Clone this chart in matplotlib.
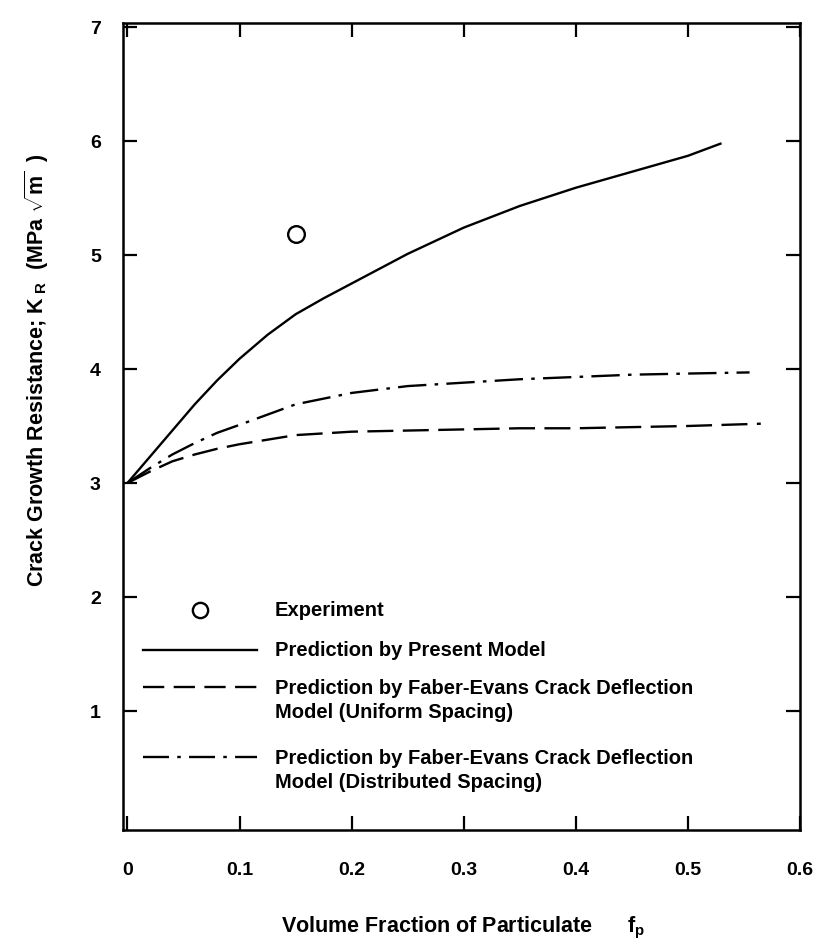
import matplotlib
matplotlib.use("Agg")
import matplotlib.pyplot as plt

plt.rcParams["font.family"] = ["Liberation Sans", "DejaVu Sans"]
plt.rcParams["mathtext.fontset"] = "custom"
plt.rcParams["mathtext.rm"] = "Liberation Sans:bold"
plt.rcParams["mathtext.bf"] = "Liberation Sans:bold"
plt.rcParams["mathtext.it"] = "Liberation Sans:bold"

# Experimental point
exp_fp = [0.15]
exp_kr = [5.18]

# Present model prediction
model_fp = [0, 0.02, 0.04, 0.06, 0.08, 0.10, 0.125, 0.15, 0.175, 0.2,
            0.25, 0.3, 0.35, 0.4, 0.45, 0.5, 0.53]
model_kr = [3.0, 3.23, 3.46, 3.69, 3.90, 4.09, 4.30, 4.48, 4.62, 4.75,
            5.01, 5.24, 5.43, 5.59, 5.73, 5.87, 5.98]

# Faber-Evans, uniform spacing
uniform_fp = [0, 0.02, 0.04, 0.06, 0.08, 0.1, 0.125, 0.15, 0.2, 0.25,
              0.3, 0.35, 0.4, 0.45, 0.5, 0.565]
uniform_kr = [3.0, 3.10, 3.19, 3.25, 3.30, 3.34, 3.38, 3.42, 3.45, 3.46,
              3.47, 3.48, 3.48, 3.49, 3.50, 3.52]

# Faber-Evans, distributed spacing
distrib_fp = [0, 0.02, 0.04, 0.06, 0.08, 0.1, 0.15, 0.2, 0.25, 0.3,
              0.35, 0.4, 0.45, 0.5, 0.555]
distrib_kr = [3.0, 3.13, 3.25, 3.35, 3.44, 3.51, 3.69, 3.79, 3.85, 3.88,
              3.91, 3.93, 3.95, 3.96, 3.97]

x_ticks = [0, 0.1, 0.2, 0.3, 0.4, 0.5, 0.6]
x_tick_labels = ["0", "0.1", "0.2", "0.3", "0.4", "0.5", "0.6"]
y_ticks = [1, 2, 3, 4, 5, 6, 7]

legend_labels = [
    ["Experiment"],
    ["Prediction by Present Model"],
    ["Prediction by Faber-Evans Crack Deflection", "Model (Uniform Spacing)"],
    ["Prediction by Faber-Evans Crack Deflection", "Model (Distributed Spacing)"],
]

W, H = 819, 953
fig = plt.figure(figsize=(W / 100, H / 100), dpi=100)
ax = fig.add_axes([123 / W, 1 - 831 / H, 677 / W, 807 / H])

lw = 1.7
dash_u = (0, (11, 4))
dash_d = (0, (12, 3.5, 1.5, 3.5))

ax.plot(model_fp, model_kr, color="black", lw=lw, solid_capstyle="butt")
ax.plot(uniform_fp, uniform_kr, color="black", lw=lw, linestyle=dash_u)
ax.plot(distrib_fp, distrib_kr, color="black", lw=lw, linestyle=dash_d)
ax.plot(exp_fp, exp_kr, linestyle="none", marker="o", ms=12,
        mfc="white", mec="black", mew=1.7)

ax.set_xlim(-0.004, 0.6)
ax.set_ylim(-0.044, 7.035)
ax.set_xticks(x_ticks)
ax.set_xticklabels(x_tick_labels)
ax.set_yticks(y_ticks)
ax.tick_params(axis="both", direction="in", length=10, width=1.6,
               top=True, right=True, labelsize=14)
ax.tick_params(axis="x", pad=22)
ax.tick_params(axis="y", pad=16)
for lbl in ax.get_xticklabels() + ax.get_yticklabels():
    lbl.set_fontweight("bold")
for sp in ax.spines.values():
    sp.set_linewidth(1.8)

# Axis titles
fig.text(37 / W, 1 - 370 / H,
         r"Crack Growth Resistance; K$_{\ \mathrm{R}}$  (MPa $\sqrt{\mathrm{m}}$  )",
         rotation=90, ha="center", va="center", fontsize=15.5, fontweight="bold")
fig.text(463 / W, 1 - 928 / H,
         r"Volume Fraction of Particulate      f$_{\mathrm{p}}$",
         ha="center", va="center", fontsize=15.5, fontweight="bold")

# Legend drawn inside the axes
ax_w, ax_h, ax_top = 677, 807, 24
def ay(py):
    return 1 - (py - ax_top) / ax_h

x0, x1 = 20 / ax_w, 134 / ax_w
xm = (x0 + x1) / 2
xt = 152 / ax_w
rows = [611, 651, 688, 758]
line_gap = 24

ax.plot([xm], [ay(rows[0])], transform=ax.transAxes, linestyle="none",
        marker="o", ms=11, mfc="white", mec="black", mew=1.7, clip_on=False)
ax.plot([x0, x1], [ay(rows[1])] * 2, transform=ax.transAxes, color="black", lw=lw)
ax.plot([x0, x1], [ay(rows[2])] * 2, transform=ax.transAxes, color="black",
        lw=lw, linestyle=(0, (9, 4)))
ax.plot([x0, x1], [ay(rows[3])] * 2, transform=ax.transAxes, color="black",
        lw=lw, linestyle=(0, (11, 3.5, 1.5, 3.5)))

for row, lines in zip(rows, legend_labels):
    for i, txt in enumerate(lines):
        ax.text(xt, ay(row + i * line_gap), txt, transform=ax.transAxes,
                ha="left", va="center", fontsize=14.5, fontweight="bold")

fig.savefig("out.png", dpi=100)
